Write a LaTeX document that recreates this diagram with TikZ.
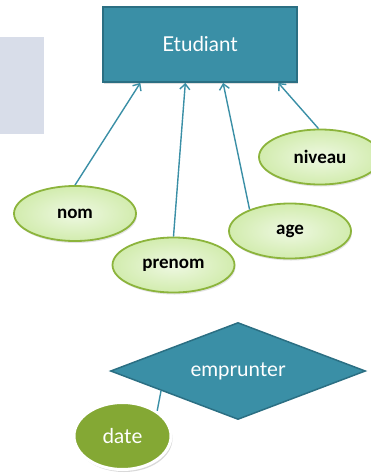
\documentclass[tikz,border=0pt]{standalone}
\usepackage{fontspec}
\newfontfamily\latofont{Lato}
\newfontfamily\carlfont{Carlito}
\usetikzlibrary{shapes.geometric,arrows.meta,calc,shadows}
\definecolor{tealfill}{HTML}{3A8FA6}
\definecolor{tealdark}{HTML}{2B6F83}
\definecolor{tealline}{HTML}{3A8FA6}
\definecolor{gbord}{HTML}{8CB43C}
\definecolor{ginner}{HTML}{EEF8E2}
\definecolor{gouter}{HTML}{D2ECAE}
\definecolor{olivefill}{HTML}{84A834}
\definecolor{panelgray}{HTML}{D8DDE9}
\begin{document}
\begin{tikzpicture}[x=1pt,y=-1pt,
  entitybox/.style={rectangle, draw=tealdark, line width=1.8pt, fill=tealfill,
    minimum width=194pt, minimum height=75pt, inner sep=0pt,
    text=white, font=\latofont\fontsize{20.5}{24}\selectfont,
    drop shadow={shadow xshift=1pt, shadow yshift=-1.5pt, opacity=0.25}},
  attrell/.style={ellipse, draw=gbord, line width=1.8pt,
    inner color=ginner, outer color=gouter,
    minimum width=122pt, minimum height=55pt, inner sep=0pt,
    font=\carlfont\bfseries\fontsize{19}{22}\selectfont,
    drop shadow={shadow xshift=1pt, shadow yshift=-2pt, opacity=0.22}},
  relshape/.style={diamond, draw=tealdark, line width=1.5pt, fill=tealfill,
    minimum width=255pt, minimum height=97pt, inner sep=0pt, aspect=2.6,
    text=white, font=\latofont\fontsize{20.5}{24}\selectfont},
  dateell/.style={ellipse, draw=white, line width=3pt, fill=olivefill,
    minimum width=97pt, minimum height=67pt, inner sep=0pt,
    text=white, font=\latofont\fontsize{20.5}{24}\selectfont,
    drop shadow={shadow xshift=1.5pt, shadow yshift=-2.5pt, opacity=0.3}},
  link/.style={draw=tealline, line width=1.4pt},
  arr/.style={link, -{Straight Barb[length=5.5pt,width=10pt,line width=1.4pt]}}
]
\useasboundingbox (0,0) rectangle (371,475);
\fill[panelgray] (0,37) rectangle (44,134);

\node[entitybox] (etud) at (200,44.5) {Etudiant};

\node[attrell] (nom) at (75,213.5) {nom};
\node[attrell] (prenom) at (173.5,265) {prenom};
\node[attrell] (age) at (290,231) {age};
\node[attrell] (niveau) at (320,157) {niveau};

\draw[arr] (nom.north) -- ($(etud.south west)!0.195!(etud.south east)$);
\draw[arr] (prenom.north) -- ($(etud.south west)!0.425!(etud.south east)$);
\draw[arr] (age.152) -- ($(etud.south west)!0.618!(etud.south east)$);
\draw[arr] (niveau.93) -- ($(etud.south west)!0.9!(etud.south east)$);

\node[relshape] (emp) at (238,371) {emprunter};
\node[dateell] (date) at (122.5,436) {\raisebox{-3pt}{date}};
\draw[link] (date.36) -- ($(emp.west)!0.4!(emp.south)$);
\end{tikzpicture}
\end{document}
